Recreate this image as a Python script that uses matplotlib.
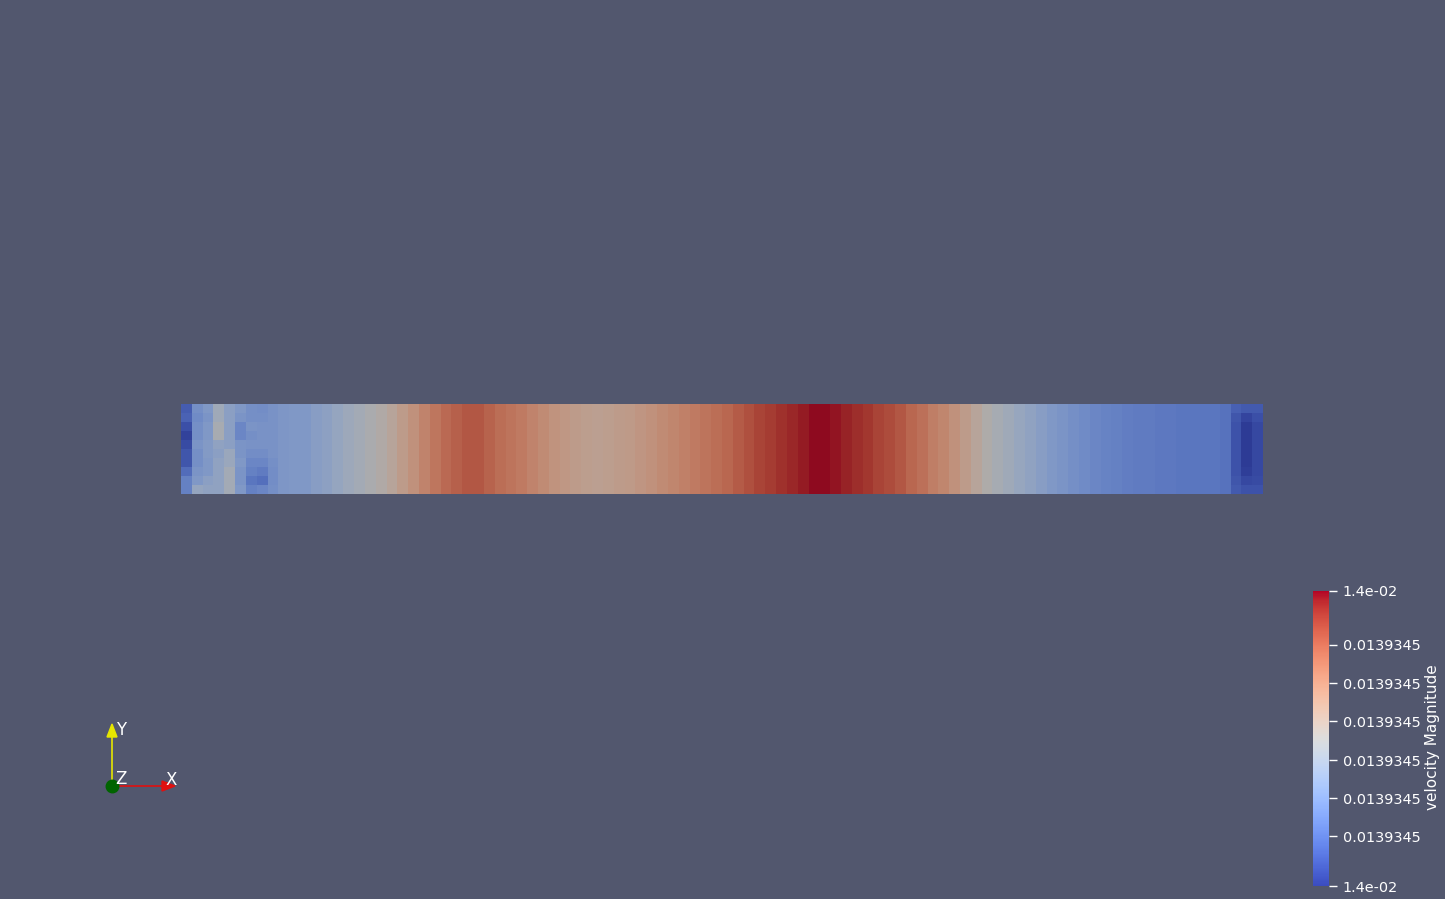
import numpy as np
import matplotlib
matplotlib.use("Agg")
import matplotlib.pyplot as plt
from matplotlib.colors import ListedColormap, Normalize
from matplotlib.cm import ScalarMappable

# normalised velocity magnitude along the channel (100 cells, left -> right)
profile = [
    0.05, 0.28, 0.32, 0.42, 0.42, 0.30, 0.30, 0.30, 0.30, 0.31,
    0.32, 0.32, 0.35, 0.37, 0.40, 0.43, 0.46, 0.49, 0.52, 0.56,
    0.61, 0.66, 0.71, 0.75, 0.79, 0.82, 0.84, 0.84, 0.81, 0.78,
    0.76, 0.74, 0.71, 0.68, 0.65, 0.63, 0.61, 0.60, 0.59, 0.60,
    0.61, 0.62, 0.64, 0.66, 0.68, 0.70, 0.72, 0.74, 0.76, 0.78,
    0.80, 0.83, 0.86, 0.89, 0.91, 0.93, 0.95, 0.97, 0.99, 0.99,
    0.98, 0.96, 0.94, 0.92, 0.89, 0.87, 0.84, 0.80, 0.77, 0.73,
    0.70, 0.66, 0.61, 0.56, 0.51, 0.47, 0.44, 0.41, 0.38, 0.35,
    0.32, 0.30, 0.28, 0.26, 0.24, 0.23, 0.22, 0.21, 0.20, 0.20,
    0.19, 0.19, 0.18, 0.18, 0.18, 0.18, 0.17, 0.09, 0.02, 0.06,
]

# inlet cells, per column, rows top -> bottom
inlet_cols = [
    [0.10, 0.12, 0.06, 0.02, 0.05, 0.08, 0.08, 0.15, 0.22, 0.22],
    [0.28, 0.26, 0.28, 0.28, 0.30, 0.28, 0.28, 0.30, 0.32, 0.40],
    [0.32, 0.30, 0.32, 0.32, 0.33, 0.33, 0.32, 0.32, 0.36, 0.38],
    [0.44, 0.44, 0.48, 0.48, 0.38, 0.36, 0.38, 0.38, 0.38, 0.38],
    [0.36, 0.36, 0.36, 0.36, 0.36, 0.42, 0.42, 0.46, 0.46, 0.46],
    [0.32, 0.30, 0.24, 0.24, 0.30, 0.30, 0.32, 0.30, 0.30, 0.32],
    [0.28, 0.28, 0.30, 0.28, 0.29, 0.27, 0.24, 0.22, 0.18, 0.22],
    [0.27, 0.28, 0.29, 0.29, 0.29, 0.27, 0.24, 0.20, 0.16, 0.24],
    [0.29, 0.29, 0.29, 0.29, 0.29, 0.29, 0.28, 0.27, 0.27, 0.28],
]
# outlet cells (last three columns)
outlet_cols = [
    [0.11, 0.08, 0.07, 0.07, 0.07, 0.07, 0.07, 0.07, 0.08, 0.09],
    [0.09, 0.03, 0.00, 0.00, 0.00, 0.00, 0.00, 0.01, 0.04, 0.07],
    [0.09, 0.06, 0.04, 0.04, 0.04, 0.04, 0.04, 0.04, 0.05, 0.07],
]

tick_pos = [0.0, 0.169, 0.298, 0.427, 0.559, 0.688, 0.817, 1.0]
tick_labels = ["1.4e-02"] + ["0.0139345"] * 6 + ["1.4e-02"]

field = np.tile(np.array(profile), (10, 1))
field[:, :9] = np.array(inlet_cols).T
field[:, -3:] = np.array(outlet_cols).T

bg = "#52576e"
base = plt.get_cmap("coolwarm")
shaded = base(np.linspace(0, 1, 256))
shaded[:, :3] *= 0.78
shaded_cmap = ListedColormap(shaded)

W, H = 1445, 899
fig = plt.figure(figsize=(W / 100, H / 100), dpi=100, facecolor=bg)
ax = fig.add_axes([0, 0, 1, 1])
ax.set_facecolor(bg)
ax.set_xlim(0, W)
ax.set_ylim(H, 0)
ax.axis("off")

ax.imshow(field, cmap=shaded_cmap, vmin=0, vmax=1, interpolation="nearest",
          extent=[181, 1263, 494, 404], aspect="auto")

# orientation triad
ox, oy = 112, 786
ax.plot([ox, ox], [oy, 733], color="#e6e600", lw=1.2)
ax.fill([107, 117, 112], [737, 737, 724], color="#e6e600")
ax.plot([ox, 165], [oy, oy], color="#e01010", lw=1.2)
ax.fill([162, 162, 175], [781, 791, 786], color="#e01010")
ax.plot(ox, oy, "o", color="#006400", ms=9)
for s, x, y in [("Y", 121, 730), ("Z", 121, 779), ("X", 171, 780)]:
    ax.text(x, y, s, color="white", fontsize=12, ha="center", va="center")

# colour legend
cax = fig.add_axes([1313 / W, (H - 886) / H, 16 / W, 295 / H])
sm = ScalarMappable(norm=Normalize(0, 1), cmap=base)
cb = fig.colorbar(sm, cax=cax)
cb.outline.set_visible(False)
cb.set_ticks(tick_pos)
cb.set_ticklabels(tick_labels)
cax.tick_params(axis="y", colors="white", length=6, width=1, pad=4,
                labelsize=10.4)
for t in cax.get_yticklabels():
    t.set_color("white")
fig.text(1432 / W, 1 - 737 / H, "velocity Magnitude", rotation=90,
         color="white", fontsize=11, ha="center", va="center")

fig.savefig("out.png", dpi=100, facecolor=bg)
